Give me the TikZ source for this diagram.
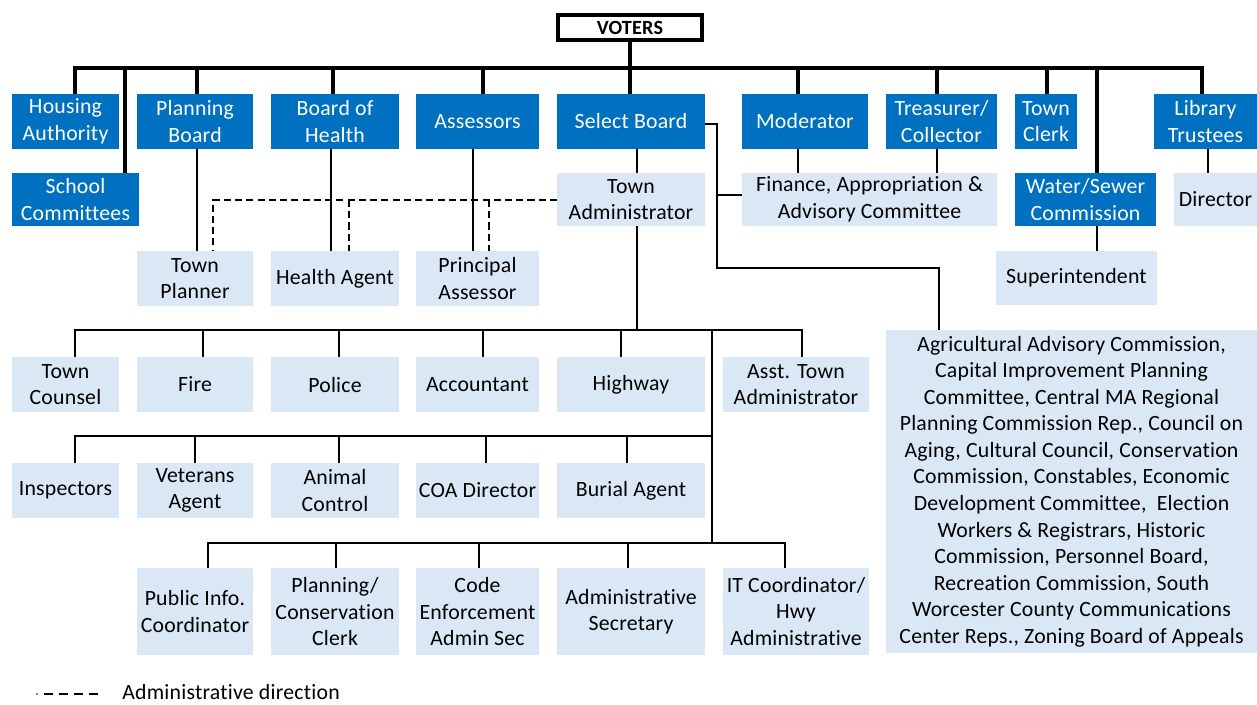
\documentclass[tikz,border=0pt]{standalone}
\usepackage{fontspec}
\setmainfont{Carlito}[Ligatures={NoCommon}, LetterSpace=1]
\definecolor{orgblue}{HTML}{0070C0}
\definecolor{orglight}{HTML}{DAE8F6}
% one box: style, name, left, top, right, bottom, text
\newcommand\orgbox[7]{%
  \node[#1, minimum width={(#5-#3)*0.02cm}, minimum height={(#6-#4)*0.02cm}]
    (#2) at ({(#3+#5)/2},{(#4+#6)/2}) {#7};}
\begin{document}
\begin{tikzpicture}[x=0.02cm,y=-0.02cm,
  box/.style={inner sep=0pt, outer sep=0pt, align=center,
    font=\fontsize{12.4}{15.1}\selectfont},
  dark/.style={box, fill=orgblue, text=white},
  light/.style={box, fill=orglight, text=black},
  top/.style={box, fill=white, draw=black, line width=2.3pt,
    font=\fontsize{11.5}{13}\selectfont\bfseries},
  heavy/.style={line width=2.8pt, line join=miter},
  thin/.style={line width=1pt},
  admin/.style={line width=1pt, dash pattern=on 4pt off 2.4pt},
  legenddash/.style={line width=1pt, dash pattern=on 5.1pt off 3.4pt},
]
\useasboundingbox (0,0) rectangle (1257,704);

% ---- boxes ----
\orgbox{top}{voters}{558}{15}{702}{40}{VOTERS}

\orgbox{dark}{housing}{12}{94}{119}{149}{Housing\\Authority}
\orgbox{dark}{planning}{137}{94}{253}{149}{Planning\\Board}
\orgbox{dark}{health}{271}{94}{399}{149}{Board of\\Health}
\orgbox{dark}{assessors}{416}{94}{539}{149}{Assessors}
\orgbox{dark}{select}{557}{94}{705}{149}{Select Board}
\orgbox{dark}{moderator}{742}{94}{868}{149}{Moderator}
\orgbox{dark}{treasurer}{886}{94}{997}{149}{Treasurer/\\Collector}
\orgbox{dark}{clerk}{1015}{94}{1077}{149}{Town\\Clerk}
\orgbox{dark}{library}{1154}{94}{1257}{149}{Library\\Trustees}

\orgbox{dark}{school}{12}{173}{139}{226}{School\\Committees}
\orgbox{light}{townadmin}{557}{173}{705}{226}{Town\\Administrator}
\orgbox{light}{finance}{742}{173}{997}{226}{Finance, Appropriation \&\\Advisory Committee}
\orgbox{dark}{water}{1015}{173}{1156}{226}{Water/Sewer\\Commission}
\orgbox{light}{director}{1174}{173}{1257}{226}{Director}

\orgbox{light}{planner}{137}{251}{253}{306}{Town\\Planner}
\orgbox{light}{healthagent}{271}{251}{399}{306}{Health Agent}
\orgbox{light}{principal}{416}{251}{539}{306}{Principal\\Assessor}
\orgbox{light}{super}{996}{251}{1157}{305}{Superintendent}

\orgbox{light}{counsel}{12}{357}{119}{412}{Town\\Counsel}
\orgbox{light}{fire}{137}{357}{253}{412}{Fire}
\orgbox{light}{police}{271}{357}{399}{412}{Police}
\orgbox{light}{accountant}{416}{357}{539}{412}{Accountant}
\orgbox{light}{highway}{557}{357}{705}{412}{Highway}
\orgbox{light}{asst}{723}{357}{869}{412}{Asst. Town\\Administrator}

\orgbox{light}{inspectors}{12}{463}{119}{518}{Inspectors}
\orgbox{light}{veterans}{137}{463}{253}{518}{Veterans\\Agent}
\orgbox{light}{animal}{271}{463}{399}{518}{Animal\\Control}
\orgbox{light}{coa}{416}{463}{539}{518}{COA Director}
\orgbox{light}{burial}{557}{463}{705}{518}{Burial Agent}

\orgbox{light}{pubinfo}{137}{568}{253}{655}{Public Info.\\Coordinator}
\orgbox{light}{plancons}{271}{568}{399}{655}{Planning/\\Conservation\\Clerk}
\orgbox{light}{code}{416}{568}{539}{655}{Code\\Enforcement\\Admin Sec}
\orgbox{light}{adminsec}{557}{568}{705}{655}{Administrative\\Secretary}
\orgbox{light}{itcoord}{723}{568}{869}{655}{IT Coordinator/\\Hwy\\Administrative}

\orgbox{light}{agri}{886}{330}{1257}{653}{Agricultural Advisory Commission,\\
Capital Improvement Planning\\
Committee, Central MA Regional\\
Planning Commission Rep., Council on\\
Aging, Cultural Council, Conservation\\
Commission, Constables, Economic\\
Development Committee,\ \ Election\\
Workers \& Registrars, Historic\\
Commission, Personnel Board,\\
Recreation Commission, South\\
Worcester County Communications\\
Center Reps., Zoning Board of Appeals}

% ---- elected offices: heavy bus from the voters ----
\coordinate (busL) at (75,68);
\coordinate (busR) at (1202,68);
\draw[heavy] (voters.south) -- (voters.south |- busL);
\draw[heavy] (housing.north -| busL) -- (busL) -- (busR) -- (library.north -| busR);
\foreach \n/\x in {planning/197, health/333, assessors/483, select/630,
                   moderator/798, treasurer/937, clerk/1047, school/125, water/1097}
  \draw[heavy] (\x,68) -- (\n.north -| \x,0);

% ---- reporting lines ----
\foreach \a/\b/\x in {planning/planner/197, health/healthagent/331,
                      assessors/principal/473, select/townadmin/637,
                      moderator/finance/798, treasurer/finance/937,
                      library/director/1208, water/super/1097}
  \draw[thin] (\a.south -| \x,0) -- (\b.north -| \x,0);

% Select Board to boards and committees
\coordinate (sbR) at (717,124);
\draw[thin] (select.east |- sbR) -- (sbR) -- (717,268) -- (939,268) -- (agri.north -| 939,0);
\draw[thin] (717,195) -- (finance.west |- 0,195);

% administrative direction from the Town Administrator
\coordinate (admL) at (213,200);
\draw[admin] (townadmin.west |- admL) -- (admL) -- (planner.north -| admL);
\draw[admin] (349,200) -- (healthagent.north -| 349,0);
\draw[admin] (489,200) -- (principal.north -| 489,0);

% departments under the Town Administrator
\coordinate (taDown) at (637,330);
\draw[thin] (townadmin.south -| taDown) -- (taDown);
\draw[thin] (counsel.north -| 75,0) -- (75,330) -- (802,330) -- (asst.north -| 802,0);
\foreach \n/\x in {fire/203, police/339, accountant/483, highway/621}
  \draw[thin] (\x,330) -- (\n.north -| \x,0);
\draw[thin] (712,330) -- (712,543);
\draw[thin] (inspectors.north -| 75,0) -- (75,436) -- (712,436);
\foreach \n/\x in {veterans/195, animal/339, coa/486, burial/627}
  \draw[thin] (\x,436) -- (\n.north -| \x,0);
\draw[thin] (pubinfo.north -| 208,0) -- (208,543) -- (785,543) -- (itcoord.north -| 785,0);
\foreach \n/\x in {plancons/336, code/479, adminsec/628}
  \draw[thin] (\x,543) -- (\n.north -| \x,0);

% ---- legend ----
\coordinate (legA) at (44,694);
\coordinate (legB) at (101,694);
\fill (37,694) circle (0.8);
\draw[legenddash] (legA) -- (legB);
\node[anchor=west, inner sep=0pt, font=\fontsize{12.4}{14.8}\selectfont] (legtext) at (122,692)
  {Administrative direction};
\end{tikzpicture}
\end{document}
